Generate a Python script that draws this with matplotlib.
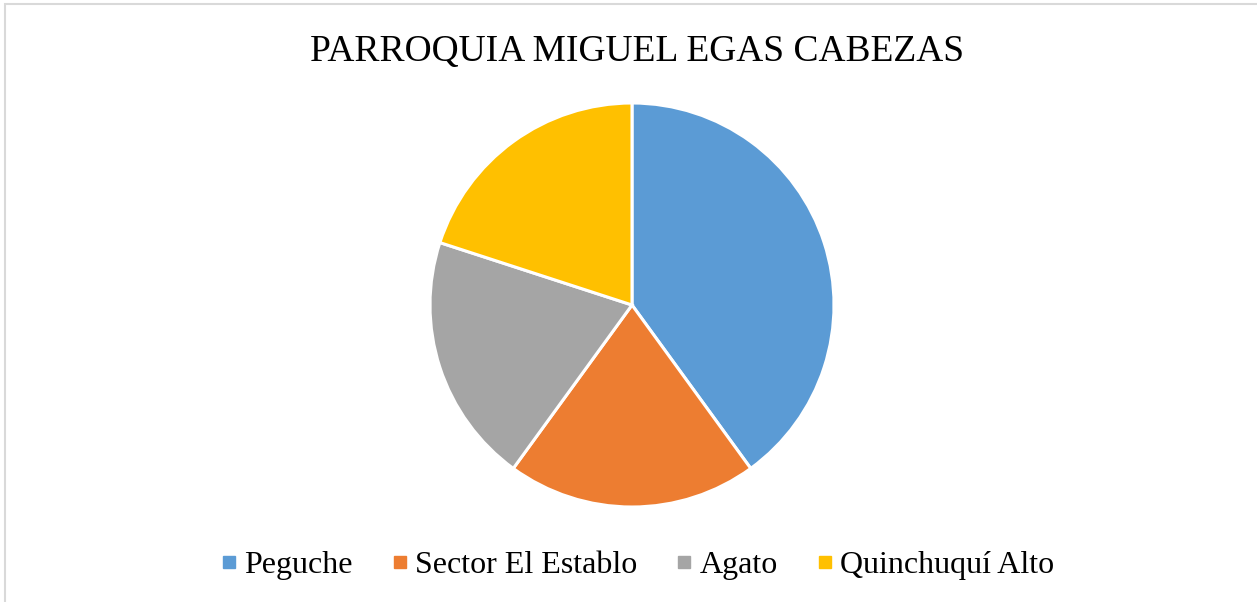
import matplotlib.pyplot as plt
from matplotlib.lines import Line2D
from matplotlib.patches import Rectangle

# datos del grafico
sectores = ["Peguche", "Sector El Establo", "Agato", "Quinchuquí Alto"]
valores = [40, 20, 20, 20]
colores = ["#5b9bd5", "#ed7d31", "#a5a5a5", "#ffc000"]
titulo = "PARROQUIA MIGUEL EGAS CABEZAS"

plt.rcParams['font.family'] = ['Liberation Serif', 'DejaVu Serif']

W, H = 1257, 602
fig = plt.figure(figsize=(W / 100, H / 100), dpi=100)

# borde gris del area del grafico
fig.patches.append(Rectangle((5 / W, -0.1), 1.2, (H - 4) / H + 0.1,
                             transform=fig.transFigure, fill=False,
                             edgecolor="#d9d9d9", linewidth=1.5))

# pastel
cx, cy, r = 632, 305, 202
ax = fig.add_axes([(cx - r) / W, (H - cy - r) / H, 2 * r / W, 2 * r / H])
ax.pie(valores, colors=colores, startangle=90, counterclock=False,
       wedgeprops=dict(edgecolor="white", linewidth=2.2))
ax.set_xlim(-1, 1)
ax.set_ylim(-1, 1)
ax.set_aspect("equal")

fig.text(637 / W, 1 - 52 / H, titulo, ha="center", va="center", fontsize=27)

# leyenda
marcas = [Line2D([], [], marker="s", linestyle="", markersize=8,
                 markerfacecolor=c, markeredgecolor=c) for c in colores]
fig.legend(marcas, sectores, loc="center", bbox_to_anchor=(637 / W, 1 - 565 / H),
           ncol=4, frameon=False, fontsize=23, handlelength=0.55,
           handletextpad=0.2, columnspacing=1.2)

fig.savefig("out.png", dpi=100)
